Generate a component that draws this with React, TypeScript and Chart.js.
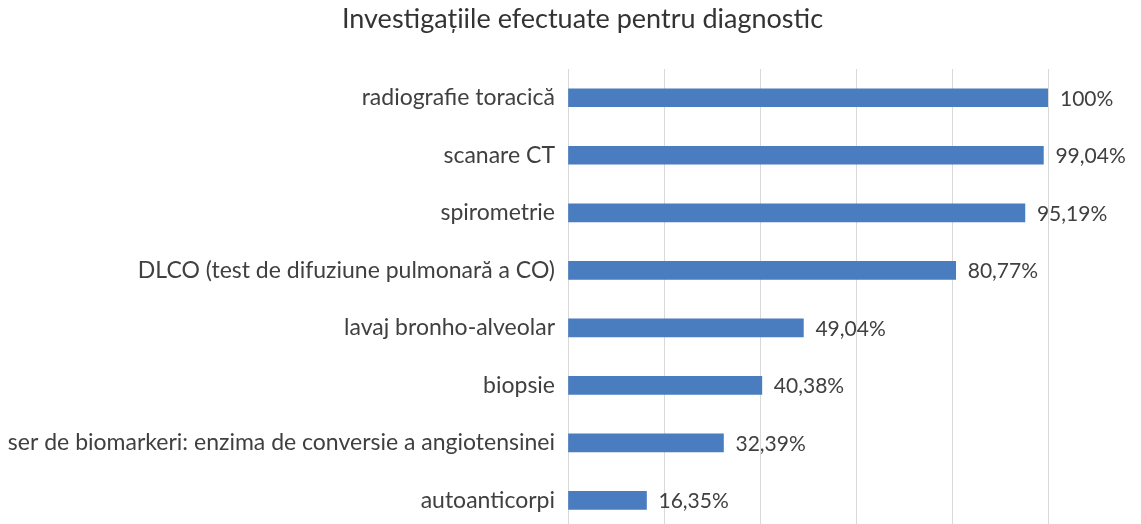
import React, { useEffect, useRef } from "react";
import { Chart, registerables } from "chart.js";

Chart.register(...registerables);

const TITLE = "Investigațiile efectuate pentru diagnostic";
const categories = [
  "radiografie toracică",
  "scanare CT",
  "spirometrie",
  "DLCO (test de difuziune pulmonară a CO)",
  "lavaj bronho-alveolar",
  "biopsie",
  "ser de biomarkeri: enzima de conversie a angiotensinei",
  "autoanticorpi",
];
const values = [100, 99.04, 95.19, 80.77, 49.04, 40.38, 32.39, 16.35];
const valueLabels = ["100%", "99,04%", "95,19%", "80,77%", "49,04%", "40,38%", "32,39%", "16,35%"];

const FONT = "Lato, 'Open Sans', sans-serif";

const titlePlugin = {
  id: "customTitle",
  afterDraw(chart: any) {
    const ctx = chart.ctx;
    ctx.save();
    ctx.font = `27px ${FONT}`;
    ctx.fillStyle = "#333333";
    ctx.textAlign = "center";
    ctx.textBaseline = "middle";
    ctx.fillText(TITLE, chart.width / 2 + 12, 19);
    ctx.restore();
  },
};

const dataLabelPlugin = {
  id: "dataLabels",
  afterDatasetsDraw(chart: any) {
    const ctx = chart.ctx;
    const meta = chart.getDatasetMeta(0);
    ctx.save();
    ctx.font = `21px ${FONT}`;
    ctx.fillStyle = "#404040";
    ctx.textAlign = "left";
    ctx.textBaseline = "middle";
    meta.data.forEach((bar: any, i: number) => {
      ctx.fillText(valueLabels[i], bar.x + 12, bar.y + 1);
    });
    ctx.restore();
  },
};

export default function App() {
  const ref = useRef<HTMLCanvasElement>(null);
  useEffect(() => {
    document.body.style.margin = "0";
    document.body.style.overflow = "hidden";
    const chart = new Chart(ref.current!, {
      type: "bar",
      data: {
        labels: categories,
        datasets: [
          {
            data: values,
            backgroundColor: "#4a7dbf",
            barThickness: 18,
          },
        ],
      },
      options: {
        indexAxis: "y",
        animation: false,
        responsive: false,
        maintainAspectRatio: false,
        layout: { padding: { left: 8, right: 93, top: 69, bottom: 2 } },
        plugins: {
          legend: { display: false },
          tooltip: { enabled: false },
          title: { display: false },
        },
        scales: {
          x: {
            min: 0,
            max: 100,
            ticks: { display: false, stepSize: 20 },
            grid: { color: "#d9d9d9", drawTicks: false },
            border: { display: false },
          },
          y: {
            ticks: {
              color: "#404040",
              font: { family: FONT, size: 23 },
              padding: 13,
            },
            grid: { display: false, drawTicks: false },
            border: { display: false },
            afterFit: (scale: any) => {
              scale.width = 560;
            },
          },
        },
      },
      plugins: [dataLabelPlugin, titlePlugin],
    });
    return () => chart.destroy();
  }, []);
  return (
    <div style={{ position: "fixed", left: 0, top: 0, width: 1141, height: 524, overflow: "hidden", background: "#fff" }}>
      <canvas ref={ref} width={1141} height={556} style={{ display: "block" }} />
    </div>
  );
}
